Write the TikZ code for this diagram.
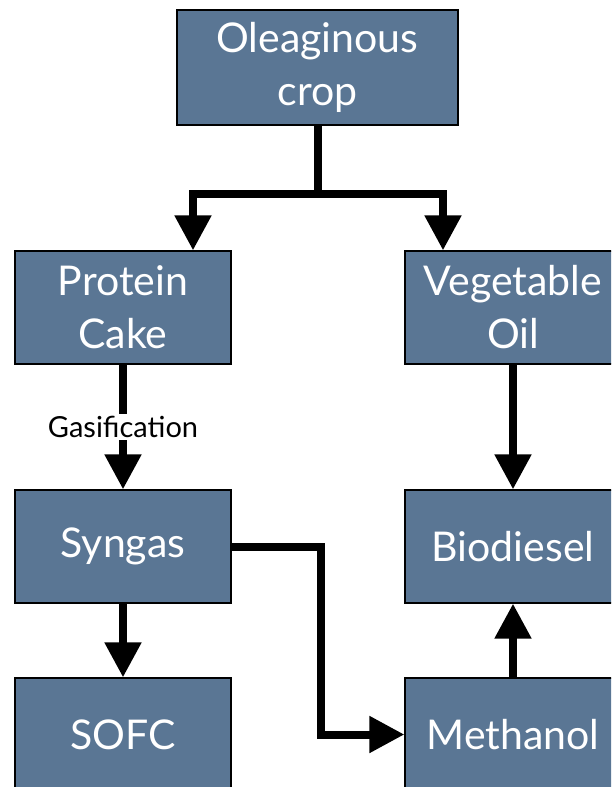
\documentclass[tikz,border=0pt]{standalone}
\usepackage{fontspec}
\setmainfont{Lato}
\usepackage{tikz}
\usetikzlibrary{arrows.meta, positioning}
\definecolor{slate}{RGB}{90,118,148}
\tikzstyle{box} = [rectangle, minimum width = 216pt, minimum height = 113pt,
  draw = black, line width = 1.2pt, fill = slate, text = white, align = center,
  font = \fontsize{41}{53}\selectfont]
\tikzstyle{flow} = [
  line width = 8pt, line join = miter,
  -{Triangle[width = 35pt, length = 35pt]}
]
\tikzstyle{step-label} = [fill = white, text = black, inner sep = 2pt,
  font = \fontsize{29}{32}\selectfont]

\begin{document}
\begin{tikzpicture}[node distance = 0]
      \useasboundingbox (0, 0) rectangle (611pt, -787pt);
      \clip (0, 0) rectangle (611pt, -787pt);
      % row 0
      \node [box, minimum width = 281pt, minimum height = 115pt] (box-crop)
        at (317.5pt, -67.5pt) {Oleaginous\\crop};
      % row 1
      \node [box, below of = box-crop, xshift = -194.5pt, yshift = -240pt]
        (box-cake) {Protein\\Cake};
      \node [box, right of = box-cake, xshift = 390pt] (box-oil) {Vegetable\\Oil};
      % row 2
      \node [box, below of = box-cake, yshift = -239pt] (box-syngas) {Syngas};
      \node [box, right of = box-syngas, xshift = 390pt] (box-diesel) {Biodiesel};
      % row 3
      \node [box, below of = box-syngas, yshift = -188pt] (box-sofc) {SOFC};
      \node [box, right of = box-sofc, xshift = 390pt] (box-methanol) {Methanol};

      \draw [flow] (box-crop.south) -- ++(0, -68pt)
        -| ([xshift = 70pt] box-cake.north);
      \draw [flow] (box-crop.south) -- ++(0, -68pt)
        -| ([xshift = -70pt] box-oil.north);
      \draw [flow] (box-cake) -- (box-syngas)
        node [step-label, midway] {Gasification};
      \draw [flow] (box-oil) -- (box-diesel);
      \draw [flow] (box-syngas) -- (box-sofc);
      \draw [flow] (box-syngas.east) -- ++(89pt, 0) |- (box-methanol.west);
      \draw [flow] (box-methanol) -- (box-diesel);
    \end{tikzpicture}
\end{document}
